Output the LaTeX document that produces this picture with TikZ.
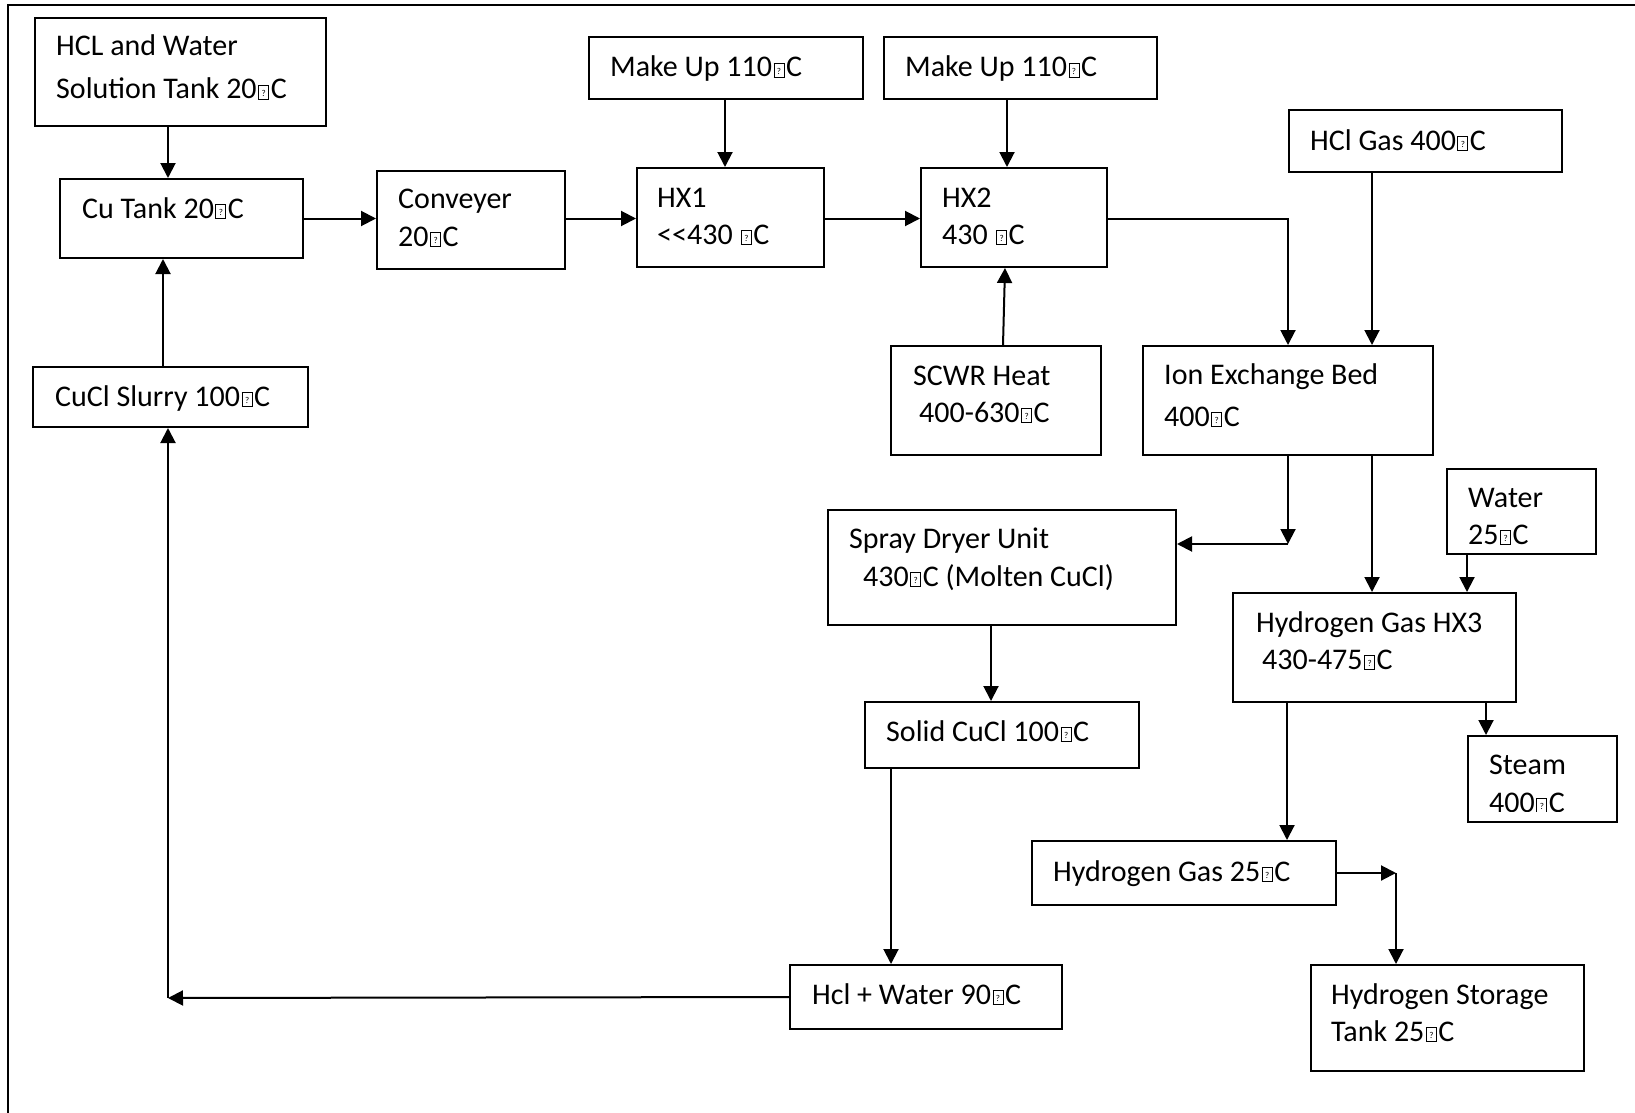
\documentclass[tikz,border=0pt]{standalone}
\usepackage{fontspec}
\setmainfont{Carlito}
\usetikzlibrary{arrows.meta,calc}
% placeholder glyph printed where the degree sign is missing
\newcommand\dg{\kern1.5pt\begingroup\setlength\fboxsep{0pt}\setlength\fboxrule{1pt}%
  \fbox{\makebox[9pt]{\rule{0pt}{13pt}\raisebox{2.5pt}{\fontsize{9}{9}\selectfont ?}}}\endgroup\kern1.5pt}
\begin{document}
\begin{tikzpicture}[x=1pt,y=-1pt,
  box/.style={draw, line width=2pt, rectangle, inner sep=0pt, anchor=north west},
  txt/.style={inner sep=0pt, anchor=base west, font=\fontsize{30}{36}\selectfont},
  flow/.style={line width=2pt, -{Triangle[length=15pt,width=15pt]}},
  pipe/.style={line width=2pt}]
\useasboundingbox (0,0) rectangle (1635,1113);
\fill[white] (0,0) rectangle (1635,1113);
% page frame
\draw[pipe] (8,1113) -- (8,5) -- (1635,5);

% process units
\node[box, minimum width=291pt, minimum height=108pt] (hcl)    at (34,17)   {};
\node[box, minimum width=243pt, minimum height=79pt]  (cu)     at (59,178)  {};
\node[box, minimum width=188pt, minimum height=98pt]  (conv)   at (376,170) {};
\node[box, minimum width=274pt, minimum height=62pt]  (mu1)    at (588,36)  {};
\node[box, minimum width=273pt, minimum height=62pt]  (mu2)    at (883,36)  {};
\node[box, minimum width=187pt, minimum height=99pt]  (hx1)    at (636,167) {};
\node[box, minimum width=186pt, minimum height=99pt]  (hx2)    at (920,167) {};
\node[box, minimum width=273pt, minimum height=62pt]  (hclg)   at (1288,109) {};
\node[box, minimum width=290pt, minimum height=109pt] (ion)    at (1142,345) {};
\node[box, minimum width=210pt, minimum height=109pt] (scwr)   at (890,345) {};
\node[box, minimum width=275pt, minimum height=60pt]  (slurry) at (32,366)  {};
\node[box, minimum width=348pt, minimum height=115pt] (spray)  at (827,509) {};
\node[box, minimum width=149pt, minimum height=85pt]  (water)  at (1446,468) {};
\node[box, minimum width=283pt, minimum height=109pt] (hx3)    at (1232,592) {};
\node[box, minimum width=274pt, minimum height=66pt]  (solid)  at (864,701) {};
\node[box, minimum width=149pt, minimum height=86pt]  (steam)  at (1467,735) {};
\node[box, minimum width=304pt, minimum height=64pt]  (h2g)    at (1031,840) {};
\node[box, minimum width=273pt, minimum height=106pt] (store)  at (1310,964) {};
\node[box, minimum width=272pt, minimum height=64pt]  (hclw)   at (789,964) {};

% labels
\node[txt] (hcl-a) at (56,56) {HCL and Water};
\node[txt] (hcl-b) at (56,99) {Solution Tank 20\dg C};
\node[txt] (cu-a) at (82,218) {Cu Tank 20\dg C};
\node[txt] (conv-a) at (398,208) {Conveyer};
\node[txt] (conv-b) at (398,246) {20\dg C};
\node[txt] (mu1-a) at (610,77) {Make Up 110\dg C};
\node[txt] (mu2-a) at (905,77) {Make Up 110\dg C};
\node[txt] (hx1-a) at (657,207) {HX1};
\node[txt] (hx1-b) at (657,244) {<{}<430 \dg C};
\node[txt] (hx2-a) at (942,207) {HX2};
\node[txt] (hx2-b) at (942,244) {430 \dg C};
\node[txt] (hclg-a) at (1310,150) {HCl Gas 400\dg C};
\node[txt] (ion-a) at (1164,384) {Ion Exchange Bed};
\node[txt] (ion-b) at (1164,426) {400\dg C};
\node[txt] (scwr-a) at (913,385) {SCWR Heat};
\node[txt] (scwr-b) at (919,422) {400-630\dg C};
\node[txt] (slurry-a) at (55,406) {CuCl Slurry 100\dg C};
\node[txt] (spray-a) at (849,548) {Spray Dryer Unit};
\node[txt] (spray-b) at (863,586) {430\dg C (Molten CuCl)};
\node[txt] (water-a) at (1468,507) {Water};
\node[txt] (water-b) at (1468,544) {25\dg C};
\node[txt] (hx3-a) at (1256,632) {Hydrogen Gas HX3};
\node[txt] (hx3-b) at (1262,669) {430-475\dg C};
\node[txt] (solid-a) at (886,741) {Solid CuCl 100\dg C};
\node[txt] (steam-a) at (1489,774) {Steam};
\begin{scope}
  \clip (1467,735) rectangle (1616,811);
  \node[txt] (steam-b) at (1489,812) {400\dg C};
\end{scope}
\node[txt] (h2g-a) at (1053,881) {Hydrogen Gas 25\dg C};
\node[txt] (store-a) at (1331,1004) {Hydrogen Storage};
\node[txt] (store-b) at (1331,1041) {Tank 25\dg C};
\node[txt] (hclw-a) at (812,1004) {Hcl + Water 90\dg C};

% streams
\draw[flow] ($(hcl.south west)+(134,0)$) -- ($(cu.north west)+(109,0)$);
\draw[flow] (cu.east) -- (cu.east -| conv.west);
\draw[flow] (conv.east |- cu.east) -- (hx1.west |- cu.east);
\draw[flow] (hx1.east |- cu.east) -- (hx2.west |- cu.east);
\draw[flow] ($(mu1.south west)+(137,0)$) -- ($(hx1.north west)+(89,0)$);
\draw[flow] ($(mu2.south west)+(124,0)$) -- ($(hx2.north west)+(87,0)$);
\draw[flow] ($(scwr.north west)+(113,0)$) -- ($(hx2.south west)+(85,0)$);
\draw[flow] (hx2.east |- cu.east) -| ($(ion.north west)+(146,0)$);
\draw[flow] ($(hclg.south west)+(84,0)$) -- ($(ion.north west)+(230,0)$);
\coordinate (split) at ($(ion.south west)+(146,88)$);
\draw[flow] ($(ion.south west)+(146,0)$) -- (split);
\draw[flow] (split) -- (split -| spray.east);
\draw[flow] ($(ion.south west)+(230,0)$) -- ($(hx3.north west)+(140,0)$);
\draw[flow] ($(water.south west)+(21,0)$) -- ($(hx3.north west)+(235,0)$);
\draw[flow] ($(hx3.south west)+(254,0)$) -- ($(steam.north west)+(19,0)$);
\draw[flow] ($(hx3.south west)+(55,0)$) -- ($(h2g.north west)+(256,0)$);
\coordinate (tee) at ($(h2g.east)+(59,0)$);
\draw[flow] (h2g.east) -- (tee);
\draw[flow] (tee) -- (tee |- store.north);
\draw[flow] ($(spray.south west)+(164,0)$) -- ($(solid.north west)+(127,0)$);
\draw[flow] ($(solid.south west)+(27,0)$) -- ($(hclw.north west)+(102,0)$);
\coordinate (ret) at ($(slurry.south west)+(136,570)$);
\draw[flow] (hclw.west) -- (ret);
\draw[flow] (ret) -- ($(slurry.south west)+(136,0)$);
\draw[flow] ($(slurry.north west)+(131,0)$) -- ($(cu.south west)+(104,0)$);
\end{tikzpicture}
\end{document}
